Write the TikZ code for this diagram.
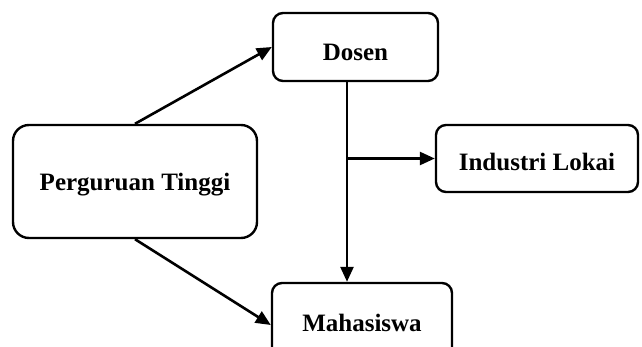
\documentclass[tikz,border=0pt]{standalone}
\usepackage{fontspec}
\setmainfont{Liberation Serif}
\usetikzlibrary{arrows.meta}
\newcommand{\dropby}[2]{\raisebox{-#1}[\height][\depth]{#2}}
\begin{document}
\begin{tikzpicture}[x=1pt,y=-1pt,
  boxnode/.style={draw, line width=2.4pt, rounded corners=#1, align=center,
    font=\fontsize{25}{29}\selectfont\bfseries, inner sep=0pt},
  boxnode/.default=10pt,
  conn/.style={line width=2.6pt, -{Triangle[length=15pt,width=13pt]}}]
\clip (0,0) rectangle (642,347);
\fill[white] (0,0) rectangle (642,347);
\node[boxnode=16pt, minimum width=244pt, minimum height=113pt] (P) at (135,181.5) {\dropby{3pt}{Perguruan Tinggi}};
\node[boxnode, minimum width=165pt, minimum height=68pt] (D) at (355.5,47) {\dropby{5pt}{Dosen}};
\node[boxnode, minimum width=202pt, minimum height=67pt] (I) at (537,158.5) {\dropby{3pt}{Industri Lokai}};
\node[boxnode, minimum width=180pt, minimum height=78pt] (M) at (362,322) {\dropby{1pt}{Mahasiswa}};
\coordinate (v1) at ([xshift=-8.5pt]D.south);
\coordinate (b) at (v1 |- I.west);
\draw[conn] (P.north) -- (D.west);
\draw[conn] (P.south) -- ([yshift=-3pt]M.west);
\draw[conn] (v1) -- (v1 |- M.north);
\draw[conn] (b) -- (I.west);
\end{tikzpicture}
\end{document}
